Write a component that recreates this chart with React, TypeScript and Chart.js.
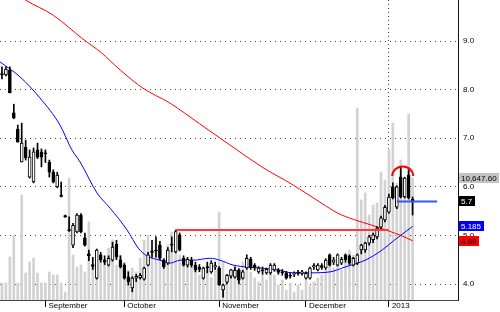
import React, { useEffect, useRef } from "react";
import { Chart, registerables } from "chart.js";

Chart.register(...registerables);

const FONT = '"Liberation Sans", Arial, sans-serif';

// ---- Data ----
const opens = [
  8.33, 8.30, 8.40, 7.52, 7.19, 6.51, 6.82, 6.20, 6.10, 6.76,
  6.72, 6.70, 6.51, 6.30, 6.00, 5.83, 5.41, 5.12, 4.80, 5.07,
  5.42, 4.95, 4.62, 4.40, 4.12, 4.60, 4.50, 4.39, 4.49, 4.82,
  4.50, 4.39, 4.15, 3.92, 4.12, 4.13, 4.10, 4.39, 4.68, 4.70,
  4.80, 4.49, 4.43, 4.82, 4.66, 5.01, 4.53, 4.39, 4.49, 4.39,
  4.35, 4.12, 4.36, 4.25, 4.35, 4.33, 3.88, 4.04, 4.16, 4.14,
  4.29, 4.12, 4.33, 4.51, 4.39, 4.25, 4.29, 4.23, 4.23, 4.29,
  4.29, 4.25, 4.23, 4.18, 4.20, 4.24, 4.22, 4.12, 4.12, 4.35,
  4.29, 4.38, 4.33, 4.60, 4.45, 4.39, 4.43, 4.60, 4.58, 4.39,
  4.43, 4.70, 4.70, 4.84, 4.91, 4.97, 5.17, 5.32, 5.48, 6.00,
  5.58, 6.20, 5.79, 6.24, 5.75,
];
const highs = [
  8.47, 8.47, 8.47, 7.70, 7.27, 7.31, 6.96, 6.76, 6.80, 6.90,
  6.78, 6.76, 6.55, 6.35, 6.30, 6.10, 5.42, 5.38, 5.25, 5.45,
  5.45, 5.05, 4.70, 4.55, 4.72, 4.65, 4.58, 4.58, 4.86, 4.90,
  4.58, 4.42, 4.25, 4.15, 4.20, 4.22, 4.35, 4.65, 4.90, 4.97,
  4.88, 4.52, 4.75, 4.97, 5.11, 5.05, 4.58, 4.55, 4.55, 4.45,
  4.40, 4.35, 4.45, 4.48, 4.45, 4.36, 4.00, 4.20, 4.30, 4.35,
  4.32, 4.28, 4.60, 4.55, 4.42, 4.36, 4.35, 4.33, 4.42, 4.42,
  4.32, 4.30, 4.26, 4.22, 4.25, 4.28, 4.28, 4.25, 4.35, 4.42,
  4.42, 4.42, 4.52, 4.62, 4.55, 4.62, 4.55, 4.62, 4.60, 4.55,
  4.62, 4.82, 4.86, 5.00, 5.05, 5.18, 5.40, 5.62, 5.85, 6.08,
  6.02, 6.41, 6.20, 6.35, 5.79,
];
const lows = [
  8.22, 8.28, 7.93, 7.40, 6.92, 6.51, 6.55, 6.18, 6.08, 6.58,
  6.41, 6.50, 6.20, 6.08, 5.98, 5.79, 5.37, 5.08, 4.75, 5.05,
  5.05, 4.78, 4.48, 4.30, 4.10, 4.45, 4.40, 4.37, 4.47, 4.50,
  4.33, 4.10, 3.98, 3.84, 4.05, 4.10, 4.08, 4.37, 4.55, 4.55,
  4.50, 4.32, 4.40, 4.66, 4.64, 4.68, 4.37, 4.35, 4.35, 4.25,
  4.25, 4.10, 4.23, 4.22, 4.30, 3.97, 3.73, 4.00, 4.12, 4.12,
  4.00, 4.10, 4.30, 4.30, 4.28, 4.22, 4.20, 4.20, 4.20, 4.26,
  4.20, 4.18, 4.10, 4.12, 4.15, 4.18, 4.18, 4.10, 4.10, 4.30,
  4.27, 4.30, 4.30, 4.37, 4.40, 4.37, 4.40, 4.45, 4.40, 4.37,
  4.40, 4.62, 4.65, 4.80, 4.85, 4.93, 5.12, 5.28, 5.45, 5.75,
  5.55, 5.77, 5.77, 5.75, 5.42,
];
const closes = [
  8.30, 8.42, 7.93, 7.42, 6.92, 6.90, 6.60, 6.61, 6.72, 6.61,
  6.61, 6.68, 6.30, 6.10, 6.24, 5.80, 5.38, 5.10, 5.21, 5.42,
  5.07, 4.80, 4.58, 4.36, 4.70, 4.50, 4.45, 4.53, 4.76, 4.55,
  4.35, 4.12, 4.05, 4.12, 4.16, 4.18, 4.33, 4.60, 4.65, 4.68,
  4.53, 4.35, 4.70, 4.80, 5.08, 4.70, 4.39, 4.51, 4.39, 4.29,
  4.30, 4.33, 4.33, 4.43, 4.38, 3.98, 3.98, 4.18, 4.29, 4.28,
  4.08, 4.25, 4.53, 4.33, 4.33, 4.33, 4.27, 4.30, 4.39, 4.39,
  4.24, 4.23, 4.12, 4.16, 4.22, 4.22, 4.25, 4.22, 4.33, 4.38,
  4.39, 4.34, 4.49, 4.39, 4.50, 4.60, 4.51, 4.50, 4.43, 4.53,
  4.60, 4.80, 4.84, 4.97, 5.01, 5.15, 5.36, 5.58, 5.79, 5.77,
  6.00, 5.79, 6.18, 5.77, 5.70,
];
const volumes = [
  1484, 1484, 3753, 5673, 1484, 9163, 2356, 3316, 3665, 2356,
  1484, 1484, 2444, 2182, 2182, 1484, 698, 10650, 3927, 2880,
  3054, 2444, 6807, 3054, 4364, 3665, 3316, 4538, 5236, 3054,
  3927, 3316, 2618, 2793, 2444, 3665, 5236, 5673, 4364, 5236,
  4800, 3665, 4800, 5934, 4364, 3927, 3316, 3054, 3316, 2618,
  2182, 2793, 2618, 1920, 2618, 7680, 3316, 2182, 2618, 3054,
  1920, 3316, 2618, 2444, 1920, 1571, 2182, 1745, 2618, 2182,
  1309, 1745, 873, 1484, 698, 1309, 873, 1745, 1222, 1571,
  1920, 2182, 2618, 3316, 2793, 3665, 2618, 3316, 4364, 3927,
  16756, 8727, 9338, 7418, 8291, 8465, 11171, 10473, 13091, 15447,
  10211, 12218, 10036, 16233, 10647.6,
];

// moving averages, read at selected bar positions
const longMaAt = [-0.5, 6, 13, 20.5, 25, 30, 35.7, 42.6, 50, 59.5, 66, 73.7, 77, 81, 85, 89, 93.7, 98, 101.3, 104];
const longMaVal = [10.2, 9.84, 9.53, 9.04, 8.77, 8.4, 8.03, 7.72, 7.3, 6.76, 6.4, 6.04, 5.87, 5.66, 5.46, 5.33, 5.21, 5.09, 4.99, 4.89];
const shortMaAt = [-0.5, 4.6, 9.6, 14.7, 17.7, 19.8, 24.1, 27.4, 31.7, 34.5, 36.7, 40, 42.6, 45.1, 48.4, 52.7, 55.2, 58.5, 62.1, 65.4, 69.7, 73.7, 78, 83.1, 86.9, 92, 96.3, 99.5, 102.1, 104];
const shortMaVal = [8.57, 8.26, 7.83, 7.27, 6.76, 6.51, 5.87, 5.56, 5.11, 4.74, 4.58, 4.49, 4.43, 4.49, 4.49, 4.53, 4.49, 4.39, 4.35, 4.33, 4.29, 4.23, 4.23, 4.25, 4.35, 4.49, 4.7, 4.91, 5.07, 5.185];

const monthTickIdx = [11, 31, 55, 77, 98];
const monthTickLabels = ["September", "October", "November", "December", "2013"];
const yearLineIdx = 98;
const priceTicks = [4, 5, 6, 7, 8, 9];

const resistanceFrom = 44;
const resistanceTo = 98;
const resistanceLevel = 5.11;
const lastLineFrom = 100;
const lastLineTo = 110.2;
const arcCenter = 101.5;
const arcHalfWidth = 2.66;
const arcBase = 6.22;
const arcTop = 6.42;

const PRICE_MIN = 3.671;
const PRICE_MAX = 9.844;
const VOL_MAX = 26182;
const X_MIN = -0.5;
const X_MAX = 115.5;

export default function App() {
  const ref = useRef<HTMLCanvasElement | null>(null);

  useEffect(() => {
    const canvas = ref.current;
    if (!canvas) return;

    const lastClose = closes[closes.length - 1];
    const lastVolume = volumes[volumes.length - 1];
    const longLast = longMaVal[longMaVal.length - 1];
    const shortLast = shortMaVal[shortMaVal.length - 1];

    const bodyData = opens.map((o, i) => ({ x: i, y: [o, closes[i]] }));
    const wickData = lows.map((l, i) => ({ x: i, y: [l, highs[i]] }));
    const volData = volumes.map((v, i) => ({ x: i, y: v }));
    const bodyColors = opens.map((o, i) => (closes[i] >= o ? "#ffffff" : "#000000"));
    const longData = longMaAt.map((x, i) => ({ x, y: longMaVal[i] }));
    const shortData = shortMaAt.map((x, i) => ({ x, y: shortMaVal[i] }));

    const overlay = {
      id: "overlay",
      afterDatasetsDraw(chart: any) {
        const { ctx, chartArea } = chart;
        const xs = chart.scales.x;
        const ys = chart.scales.y;
        ctx.save();
        ctx.beginPath();
        ctx.rect(chartArea.left, chartArea.top, chartArea.right - chartArea.left, chartArea.bottom - chartArea.top);
        ctx.clip();
        const cx = xs.getPixelForValue(arcCenter);
        const rx = xs.getPixelForValue(arcCenter + arcHalfWidth) - cx;
        const cy = ys.getPixelForValue(arcBase);
        const ry = cy - ys.getPixelForValue(arcTop);
        ctx.beginPath();
        ctx.ellipse(cx, cy, rx, ry, 0, Math.PI, 2 * Math.PI);
        ctx.strokeStyle = "#ff0000";
        ctx.lineWidth = 2;
        ctx.stroke();
        ctx.restore();
      },
      afterDraw(chart: any) {
        const { ctx, chartArea } = chart;
        const ys = chart.scales.y;
        const yv = chart.scales.yv;
        const boxes = [
          {
            text: lastVolume.toLocaleString("en-US", { minimumFractionDigits: 2, maximumFractionDigits: 2 }),
            y: yv.getPixelForValue(lastVolume),
            bg: "#c4c4c4",
            fg: "#000000",
          },
          { text: String(lastClose), y: ys.getPixelForValue(lastClose), bg: "#000000", fg: "#ffffff" },
          { text: String(shortLast), y: ys.getPixelForValue(shortLast), bg: "#0000ff", fg: "#ffffff" },
          { text: String(longLast), y: ys.getPixelForValue(longLast), bg: "#ff0000", fg: "#000000" },
        ];
        ctx.save();
        ctx.font = `8px ${FONT}`;
        ctx.textBaseline = "middle";
        ctx.textAlign = "left";
        for (const b of boxes) {
          const w = ctx.measureText(b.text).width;
          const x0 = chartArea.right + 1;
          const top = Math.round(b.y - 5);
          ctx.fillStyle = b.bg;
          ctx.fillRect(x0, top, Math.ceil(w + 4), 10);
          ctx.fillStyle = b.fg;
          ctx.fillText(b.text, x0 + 2, top + 5.5);
        }
        ctx.restore();
      },
    };

    const chart = new Chart(canvas, {
      type: "bar",
      data: {
        datasets: [
          {
            type: "bar",
            label: "Volume",
            data: volData as any,
            yAxisID: "yv",
            backgroundColor: "#d2d2d2",
            barThickness: 2,
            grouped: false,
            order: 6,
          } as any,
          {
            type: "line",
            label: "MA long",
            data: longData as any,
            yAxisID: "y",
            borderColor: "#ff0000",
            borderWidth: 1,
            pointRadius: 0,
            cubicInterpolationMode: "monotone",
            clip: 0,
            order: 5,
          } as any,
          {
            type: "line",
            label: "MA short",
            data: shortData as any,
            yAxisID: "y",
            borderColor: "#0000ff",
            borderWidth: 1,
            pointRadius: 0,
            cubicInterpolationMode: "monotone",
            clip: 0,
            order: 4,
          } as any,
          {
            type: "bar",
            label: "Range",
            data: wickData as any,
            yAxisID: "y",
            backgroundColor: "#000000",
            barThickness: 1,
            grouped: false,
            order: 3,
          } as any,
          {
            type: "bar",
            label: "Body",
            data: bodyData as any,
            yAxisID: "y",
            backgroundColor: bodyColors,
            borderColor: "#000000",
            borderWidth: 1,
            borderSkipped: false,
            barThickness: 3,
            grouped: false,
            order: 2,
          } as any,
          {
            type: "line",
            label: "Resistance",
            data: [
              { x: resistanceFrom, y: resistanceLevel },
              { x: resistanceTo, y: resistanceLevel },
            ] as any,
            yAxisID: "y",
            borderColor: "#ff3a3a",
            borderWidth: 2,
            pointRadius: 0,
            order: 1,
          } as any,
          {
            type: "line",
            label: "Last",
            data: [
              { x: lastLineFrom, y: lastClose },
              { x: lastLineTo, y: lastClose },
            ] as any,
            yAxisID: "y",
            borderColor: "#3355ff",
            borderWidth: 2,
            pointRadius: 0,
            order: 1,
          } as any,
        ],
      },
      options: {
        responsive: false,
        animation: false,
        events: [],
        layout: { padding: 0 },
        plugins: { legend: { display: false }, tooltip: { enabled: false } },
        scales: {
          x: {
            type: "linear",
            min: X_MIN,
            max: X_MAX,
            offset: false,
            afterBuildTicks: (s: any) => {
              s.ticks = monthTickIdx.map((v) => ({ value: v }));
            },
            afterFit: (s: any) => {
              s.height = 12;
              s.paddingLeft = 0;
              s.paddingRight = 0;
            },
            ticks: {
              autoSkip: false,
              maxRotation: 0,
              minRotation: 0,
              align: "start",
              labelOffset: 3,
              padding: -6,
              color: "#000000",
              font: { family: FONT, size: 8 },
              callback: (v: any) => {
                const k = monthTickIdx.indexOf(Number(v));
                return k >= 0 ? monthTickLabels[k] : "";
              },
            },
            grid: {
              offset: false,
              color: (c: any) => (c.tick && c.tick.value === yearLineIdx ? "#555555" : "rgba(0,0,0,0)"),
              lineWidth: 1,
              drawOnChartArea: true,
              drawTicks: true,
              tickLength: 7,
              tickColor: "#000000",
              tickWidth: 1,
            },
            border: { display: true, color: "#444444", width: 1, dash: [1, 3] },
          } as any,
          y: {
            type: "linear",
            position: "right",
            min: PRICE_MIN,
            max: PRICE_MAX,
            afterBuildTicks: (s: any) => {
              s.ticks = priceTicks.map((v) => ({ value: v }));
            },
            afterFit: (s: any) => {
              s.width = 42;
              s.paddingTop = 0;
              s.paddingBottom = 0;
            },
            ticks: {
              padding: 5,
              color: "#000000",
              font: { family: FONT, size: 8 },
              callback: (v: any) => Number(v).toFixed(1),
            },
            grid: { offset: false, color: "#444444", lineWidth: 1, drawTicks: false, drawOnChartArea: true },
            border: { display: true, color: "#111111", width: 1, dash: [1, 4] },
          } as any,
          yv: {
            type: "linear",
            display: false,
            min: 0,
            max: VOL_MAX,
            grid: { display: false },
          } as any,
        },
      } as any,
      plugins: [overlay as any],
    });

    return () => chart.destroy();
  }, []);

  return (
    <div style={{ position: "absolute", left: 0, top: 0, width: 500, height: 312, background: "#ffffff" }}>
      <canvas ref={ref} width={500} height={312} style={{ display: "block" }} />
    </div>
  );
}
